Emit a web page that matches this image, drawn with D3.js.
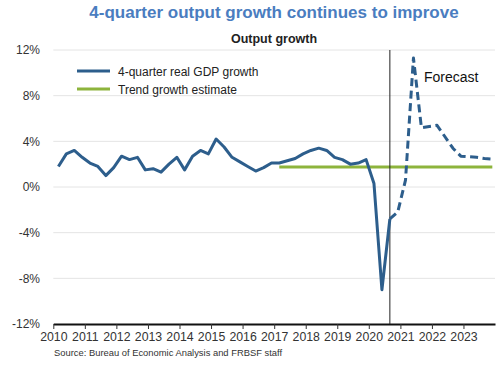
<!DOCTYPE html>
<html>
<head>
<meta charset="utf-8">
<script src="https://cdn.jsdelivr.net/npm/d3@7"></script>
<style>
  html, body { margin: 0; padding: 0; background: #fff; }
  svg { display: block; font-family: "Liberation Sans", Arial, sans-serif; }
</style>
</head>
<body>
<svg id="chart" width="500" height="365"></svg>
<script>
// ---- Data ----
const actualQuarters = [
  "2010Q1","2010Q2","2010Q3","2010Q4","2011Q1","2011Q2","2011Q3","2011Q4",
  "2012Q1","2012Q2","2012Q3","2012Q4","2013Q1","2013Q2","2013Q3","2013Q4",
  "2014Q1","2014Q2","2014Q3","2014Q4","2015Q1","2015Q2","2015Q3","2015Q4",
  "2016Q1","2016Q2","2016Q3","2016Q4","2017Q1","2017Q2","2017Q3","2017Q4",
  "2018Q1","2018Q2","2018Q3","2018Q4","2019Q1","2019Q2","2019Q3","2019Q4",
  "2020Q1","2020Q2","2020Q3"
];
const actualValues = [
  1.8, 2.9, 3.2, 2.6, 2.1, 1.8, 1.0, 1.7,
  2.7, 2.4, 2.6, 1.5, 1.6, 1.3, 2.0, 2.6,
  1.5, 2.7, 3.2, 2.9, 4.2, 3.5, 2.6, 2.2,
  1.8, 1.4, 1.7, 2.1, 2.1, 2.3, 2.5, 2.9,
  3.2, 3.4, 3.2, 2.6, 2.4, 2.0, 2.1, 2.4,
  0.3, -9.0, -2.8
];
const forecastQuarters = [
  "2020Q3","2020Q4","2021Q1","2021Q2","2021Q3","2021Q4","2022Q1",
  "2022Q2","2022Q3","2022Q4","2023Q1","2023Q2","2023Q3","2023Q4"
];
const forecastValues = [
  -2.8, -2.2, 0.6, 11.3, 5.2, 5.3, 5.4,
  4.4, 3.4, 2.7, 2.65, 2.6, 2.5, 2.45
];
const trendQuarters = ["2017Q1", "2023Q4"];
const trendValues = [1.75, 1.75];
const forecastStartQuarter = "2020Q3";

const yTicks = [-12, -8, -4, 0, 4, 8, 12];
const xTickYears = [2010, 2011, 2012, 2013, 2014, 2015, 2016, 2017, 2018, 2019, 2020, 2021, 2022, 2023];

const titleText = "4-quarter output growth continues to improve";
const subtitleText = "Output growth";
const legendLabels = ["4-quarter real GDP growth", "Trend growth estimate"];
const forecastLabel = "Forecast";
const sourceText = "Source: Bureau of Economic Analysis and FRBSF staff";

// ---- Styles ----
const blue = "#2d5e8c";
const green = "#8db43c";
const titleBlue = "#4a7dc0";

// ---- Helpers ----
function qDate(q) {
  const year = +q.slice(0, 4);
  const qn = +q.slice(5);
  return new Date(year, (qn - 1) * 3 + 2, 1);
}

const svg = d3.select("#chart");

const x = d3.scaleTime()
  .domain([new Date(2010, 0, 1), new Date(2024, 0, 1)])
  .range([53.3, 495]);
const y = d3.scaleLinear().domain([-12, 12]).range([324, 50]);

// Title
svg.append("text")
  .attr("x", 274).attr("y", 18)
  .attr("text-anchor", "middle")
  .attr("font-size", 17).attr("font-weight", "bold")
  .attr("fill", titleBlue)
  .text(titleText);

svg.append("text")
  .attr("x", 274).attr("y", 43)
  .attr("text-anchor", "middle")
  .attr("font-size", 12.5).attr("font-weight", "bold")
  .attr("fill", "#222")
  .text(subtitleText);

// Gridlines
svg.append("g").selectAll("line")
  .data(yTicks.filter(d => d !== -12))
  .join("line")
  .attr("x1", 53.3).attr("x2", 495)
  .attr("y1", d => y(d)).attr("y2", d => y(d))
  .attr("stroke", "#e4e4e4").attr("stroke-width", 1);

// Y axis labels
const yAxis = d3.axisLeft(y).tickValues(yTicks).tickSize(0).tickPadding(0)
  .tickFormat(d => d + "%");
const gy = svg.append("g").attr("transform", "translate(40,0)").call(yAxis);
gy.select(".domain").remove();
gy.selectAll("text")
  .attr("font-size", 12)
  .attr("font-family", "Liberation Sans, Arial, sans-serif")
  .attr("fill", "#333");

// X axis
const xAxis = d3.axisBottom(x)
  .tickValues(xTickYears.map(yr => new Date(yr, 0, 1)))
  .tickFormat(d3.timeFormat("%Y"))
  .tickSize(5).tickSizeOuter(0).tickPadding(3);
const gx = svg.append("g").attr("transform", `translate(0,${y(-12)})`).call(xAxis);
gx.select(".domain").attr("stroke", "#111").attr("stroke-width", 2);
gx.selectAll(".tick line").attr("stroke", "#333").attr("stroke-width", 1);
gx.selectAll("text")
  .attr("font-size", 12.3)
  .attr("font-family", "Liberation Sans, Arial, sans-serif")
  .attr("fill", "#333");

// Trend line
const line = d3.line().x(d => x(qDate(d[0]))).y(d => y(d[1]));
svg.append("path")
  .datum(trendQuarters.map((q, i) => [q, trendValues[i]]))
  .attr("d", line)
  .attr("fill", "none").attr("stroke", green).attr("stroke-width", 3);

// Vertical forecast divider
svg.append("line")
  .attr("x1", x(qDate(forecastStartQuarter))).attr("x2", x(qDate(forecastStartQuarter)))
  .attr("y1", y(12)).attr("y2", y(-12))
  .attr("stroke", "#222").attr("stroke-width", 1);

// Actual series
svg.append("path")
  .datum(actualQuarters.map((q, i) => [q, actualValues[i]]))
  .attr("d", line)
  .attr("fill", "none").attr("stroke", blue).attr("stroke-width", 3)
  .attr("stroke-linejoin", "round");

// Forecast series
svg.append("path")
  .datum(forecastQuarters.map((q, i) => [q, forecastValues[i]]))
  .attr("d", line)
  .attr("fill", "none").attr("stroke", blue).attr("stroke-width", 3)
  .attr("stroke-dasharray", "8,4.5")
  .attr("stroke-linejoin", "round");

// Forecast label
svg.append("text")
  .attr("x", 424).attr("y", 82)
  .attr("font-size", 14).attr("fill", "#111")
  .text(forecastLabel);

// Legend
const legendColors = [blue, green];
const lg = svg.append("g");
legendLabels.forEach((lab, i) => {
  const ly = 71 + i * 18;
  lg.append("line")
    .attr("x1", 77).attr("x2", 110).attr("y1", ly).attr("y2", ly)
    .attr("stroke", legendColors[i]).attr("stroke-width", 3);
  lg.append("text")
    .attr("x", 118).attr("y", ly + 4.5)
    .attr("font-size", 12).attr("fill", "#222")
    .text(lab);
});

// Source
svg.append("text")
  .attr("x", 54).attr("y", 356)
  .attr("font-size", 9.4).attr("fill", "#333")
  .text(sourceText);
</script>
</body>
</html>
